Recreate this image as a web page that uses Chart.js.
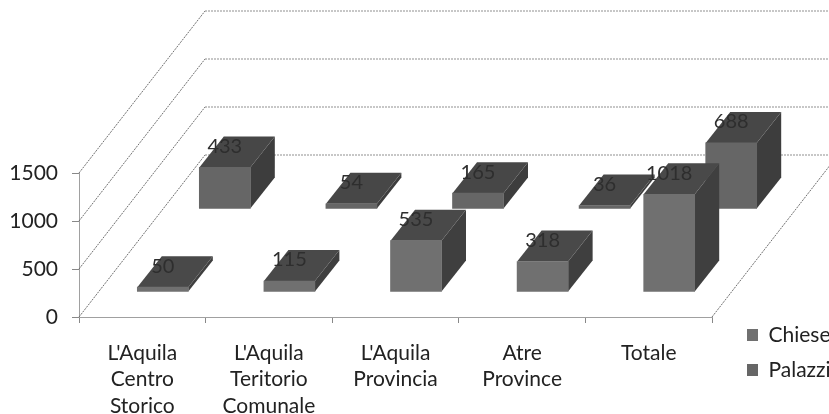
<!DOCTYPE html>
<html><head><meta charset="utf-8">
<style>html,body{margin:0;padding:0;background:#fff;overflow:hidden}#w{width:829px;height:414px}</style>
<script src="https://cdn.jsdelivr.net/npm/chart.js@4"></script>
</head><body><div id="w"><canvas id="c" width="829" height="414"></canvas></div>
<script>
const categories = [["L'Aquila","Centro","Storico"],["L'Aquila","Teritorio","Comunale"],["L'Aquila","Provincia"],["Atre","Province"],["Totale"]];
const chiese = [50,115,535,318,1018];
const palazzi = [433,54,165,36,688];
const yTicks = [0,500,1000,1500];

const FONT = {family:"Lato, 'Open Sans', sans-serif", size:21};
const WALL = {dx:126, dy:-162};
const ROW = [{dx:20.5,dy:-25},{dx:82.5,dy:-108}];
const BAR = {dx:24.5,dy:-31};
const SHADE = [{top:'#494949',side:'#3f3f3f'},{top:'#474747',side:'#3d3d3d'}];

function poly(ctx,pts,fill){ctx.beginPath();pts.forEach((p,i)=>i?ctx.lineTo(p[0],p[1]):ctx.moveTo(p[0],p[1]));ctx.closePath();ctx.fillStyle=fill;ctx.fill();}

const threeD = {
  id:'threeD',
  beforeLayout(chart){
    const lg=chart.legend;
    if(lg&&!lg._wrapped){const f=lg.fit.bind(lg);lg.fit=function(){f();this.width=0;};lg._wrapped=true;}
  },
  afterLayout(chart){
    const lg=chart.legend; if(!lg)return;
    lg.left=747-lg.options.labels.padding;
    lg.top=324.5-lg.options.labels.padding;
    lg.right=829; lg.bottom=414;
  },
  beforeDatasetsDraw(chart){
    const {ctx,scales:{x,y}}=chart;
    const l=x.left,r=x.right;
    ctx.save();
    ctx.lineWidth=1;
    yTicks.forEach(v=>{
      const py=y.getPixelForValue(v);
      ctx.setLineDash([2,1]);ctx.strokeStyle='#6f6f6f';
      ctx.beginPath();ctx.moveTo(l,py);ctx.lineTo(l+WALL.dx,py+WALL.dy);ctx.stroke();
      ctx.strokeStyle='#8f8f8f';
      ctx.beginPath();ctx.moveTo(l+WALL.dx,py+WALL.dy);ctx.lineTo(chart.width+20,py+WALL.dy);ctx.stroke();
    });
    const by=y.getPixelForValue(0);
    ctx.strokeStyle='#6f6f6f';
    ctx.beginPath();ctx.moveTo(r,by);ctx.lineTo(r+WALL.dx,by+WALL.dy);ctx.stroke();
    ctx.restore();
  },
  beforeDatasetDraw(chart,args){
    const {ctx}=chart;const o=ROW[args.index];const s=SHADE[args.index];
    ctx.save();ctx.translate(o.dx,o.dy);
    args.meta.data.forEach(b=>{
      const L=b.x-b.width/2,R=b.x+b.width/2,T=b.y,B=b.base;
      poly(ctx,[[R,T],[R+BAR.dx,T+BAR.dy],[R+BAR.dx,B+BAR.dy],[R,B]],s.side);
      poly(ctx,[[L,T],[L+BAR.dx,T+BAR.dy],[R+BAR.dx,T+BAR.dy],[R,T]],s.top);
    });
  },
  afterDatasetDraw(chart,args){
    const {ctx}=chart;
    ctx.fillStyle='#2e2e2e';ctx.font=`20px ${FONT.family}`;ctx.textAlign='center';ctx.textBaseline='middle';
    args.meta.data.forEach((b,i)=>{
      ctx.fillText(String(chart.data.datasets[args.index].data[i]),b.x,b.y-21);
    });
    ctx.restore();
  }
};

new Chart(document.getElementById('c'),{
  type:'bar',
  data:{labels:categories,datasets:[
    {label:'Chiese',data:chiese,backgroundColor:'#707070',grouped:false,barThickness:51},
    {label:'Palazzi',data:palazzi,backgroundColor:'#666666',grouped:false,barThickness:51}
  ]},
  options:{
    responsive:false,animation:false,
    layout:{padding:{top:173,right:117,left:0,bottom:0}},
    plugins:{
      tooltip:{enabled:false},
      legend:{position:'right',align:'start',
        labels:{boxWidth:11,boxHeight:12,padding:14,color:'#222',font:FONT}}
    },
    scales:{
      x:{offset:true,
        afterFit(s){s.height=97;},
        grid:{offset:true,drawOnChartArea:false,drawTicks:true,tickLength:6,color:'#888'},
        border:{color:'#a0a0a0'},
        ticks:{color:'#222',font:{...FONT,lineHeight:1.26},padding:17,maxRotation:0,autoSkip:false}},
      y:{min:0,max:1500,
        afterFit(s){s.width=79;},
        afterBuildTicks(s){s.ticks=yTicks.map(v=>({value:v}));},
        grid:{drawOnChartArea:false,tickLength:7,color:'#888'},
        border:{color:'#a0a0a0'},
        ticks:{color:'#222',font:FONT,padding:14,callback:v=>String(v)}}
    }
  },
  plugins:[threeD]
});
</script></body></html>
